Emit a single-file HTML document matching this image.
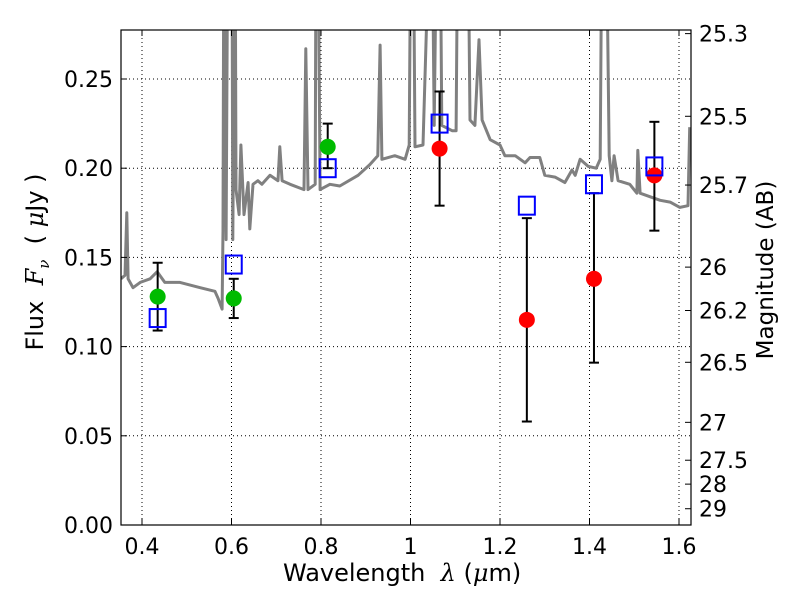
<!DOCTYPE html>
<html><head><meta charset="utf-8"><style>
body{margin:0;background:#fff;}
svg{display:block;font-family:"DejaVu Sans","Liberation Sans",sans-serif;}
</style></head><body>
<svg id="chart" width="800" height="600" viewBox="0 0 800 600"></svg>
<script>
const specW=[0.353,0.362,0.366,0.369,0.380,0.396,0.418,0.434,0.451,0.485,0.530,0.563,0.570,0.579,0.581,0.583,0.588,0.592,0.601,0.603,0.608,0.610,0.617,0.621,0.628,0.637,0.641,0.648,0.659,0.668,0.686,0.704,0.708,0.713,0.731,0.762,0.766,0.771,0.787,0.789,0.793,0.798,0.820,0.842,0.883,0.909,0.927,0.932,0.936,0.965,0.988,0.997,1.001,1.006,1.010,1.028,1.044,1.048,1.053,1.059,1.066,1.070,1.093,1.102,1.106,1.128,1.133,1.144,1.153,1.160,1.178,1.200,1.211,1.234,1.256,1.267,1.289,1.300,1.323,1.345,1.361,1.368,1.379,1.397,1.415,1.424,1.428,1.437,1.444,1.450,1.455,1.464,1.490,1.506,1.508,1.513,1.535,1.558,1.580,1.602,1.620,1.624];
const specF=[0.138,0.140,0.175,0.138,0.133,0.136,0.138,0.142,0.136,0.136,0.133,0.131,0.127,0.121,0.165,0.35,0.160,0.35,0.35,0.160,0.35,0.188,0.174,0.213,0.174,0.192,0.166,0.191,0.193,0.191,0.196,0.193,0.212,0.193,0.191,0.188,0.267,0.188,0.191,0.35,0.35,0.188,0.191,0.190,0.196,0.202,0.207,0.269,0.205,0.207,0.205,0.213,0.35,0.35,0.212,0.213,0.35,0.35,0.224,0.35,0.35,0.224,0.221,0.221,0.35,0.35,0.227,0.224,0.272,0.227,0.216,0.213,0.207,0.207,0.203,0.206,0.206,0.196,0.195,0.192,0.199,0.196,0.205,0.201,0.200,0.205,0.35,0.35,0.207,0.193,0.207,0.193,0.191,0.186,0.210,0.186,0.184,0.182,0.181,0.178,0.179,0.223];
const photW=[0.435,0.605,0.815,1.065,1.26,1.41,1.545];
const photF=[0.128,0.127,0.212,0.211,0.115,0.138,0.196];
const errHi=[0.147,0.138,0.225,0.243,0.172,0.186,0.226];
const errLo=[0.109,0.116,0.200,0.179,0.058,0.091,0.165];
const photColor=['#00bb00','#00bb00','#00bb00','#ff0000','#ff0000','#ff0000','#ff0000'];
const modelF=[0.116,0.146,0.200,0.225,0.179,0.191,0.201];
const xTicks=[0.4,0.6,0.8,1.0,1.2,1.4,1.6];
const xTickLabels=['0.4','0.6','0.8','1','1.2','1.4','1.6'];
const yTicks=[0,0.05,0.10,0.15,0.20,0.25];
const yTickLabels=['0.00','0.05','0.10','0.15','0.20','0.25'];
const magTicks=[25.3,25.5,25.7,26,26.2,26.5,27,27.5,28,29];
const magLabels=['25.3','25.5','25.7','26','26.2','26.5','27','27.5','28','29'];

const L=121,R=691,T=30,B=525;
const X=w=>142+(w-0.4)*447.5;
const Y=f=>B-f*1784;
const magToF=m=>3631e6*Math.pow(10,-0.4*m);
const svg=document.getElementById('chart');
const NS='http://www.w3.org/2000/svg';
function mk(tag,attrs,parent){const e=document.createElementNS(NS,tag);for(const k in attrs)e.setAttribute(k,attrs[k]);(parent||svg).appendChild(e);return e;}

const defs=mk('defs',{});
const cp=mk('clipPath',{id:'clip'},defs);
mk('rect',{x:L,y:T,width:R-L,height:B-T},cp);

const grid=mk('g',{});


xTicks.forEach(t=>mk('line',{x1:X(t),x2:X(t),y1:T,y2:B,stroke:'#000','stroke-width':1,'stroke-dasharray':'1,3'},grid));
yTicks.forEach(t=>mk('line',{x1:L,x2:R,y1:Y(t),y2:Y(t),stroke:'#000','stroke-width':1,'stroke-dasharray':'1,3'},grid));

let d='';specW.forEach((w,i)=>{d+=(i?'L':'M')+X(w).toFixed(1)+','+Y(specF[i]).toFixed(1);});
const sp=mk('path',{d:d,fill:'none',stroke:'#808080','stroke-width':3,'clip-path':'url(#clip)','stroke-linejoin':'round'});



photW.forEach((w,i)=>{
  const g=mk('g',{'clip-path':'url(#clip)'});
  
  
  const x=X(w);
  mk('line',{x1:x,x2:x,y1:Y(errHi[i]),y2:Y(errLo[i]),stroke:'#000','stroke-width':2},g);
  mk('line',{x1:x-5,x2:x+5,y1:Y(errHi[i]),y2:Y(errHi[i]),stroke:'#000','stroke-width':2},g);
  mk('line',{x1:x-5,x2:x+5,y1:Y(errLo[i]),y2:Y(errLo[i]),stroke:'#000','stroke-width':2},g);
  mk('circle',{cx:x,cy:Y(photF[i]),r:8,fill:photColor[i]},g);
});
photW.forEach((w,i)=>{
  const r=mk('rect',{x:X(w)-8,y:Y(modelF[i])-9,width:16,height:18,fill:'none',stroke:'#0000ff','stroke-width':2});
  
  
});

const fr=mk('rect',{x:L,y:T,width:R-L,height:B-T,fill:'none',stroke:'#000','stroke-width':1.2});



xTicks.forEach((t,i)=>{
  mk('line',{x1:X(t),x2:X(t),y1:B,y2:B-6,stroke:'#000'});
  mk('line',{x1:X(t),x2:X(t),y1:T,y2:T+6,stroke:'#000'});
  const tx=mk('text',{x:X(t),y:B+29,'font-size':22,'text-anchor':'middle'});
  tx.textContent=xTickLabels[i];
  
  
});
yTicks.forEach((t,i)=>{
  mk('line',{x1:L,x2:L+6,y1:Y(t),y2:Y(t),stroke:'#000'});
  const tx=mk('text',{x:L-8,y:Y(t)+8,'font-size':22,'text-anchor':'end'});
  tx.textContent=yTickLabels[i];
  
  
});
magTicks.forEach((m,i)=>{
  const y=Y(magToF(m));
  mk('line',{x1:R-6,x2:R,y1:y,y2:y,stroke:'#000'});
  const tx=mk('text',{x:R+8,y:y+8,'font-size':22});
  tx.textContent=magLabels[i];
  
  
});
</script>
<div style="position:absolute;left:0;top:0;width:800px;height:600px;pointer-events:none;font-family:'DejaVu Sans','Liberation Sans',sans-serif;">
  <div style="position:absolute;left:283px;top:559px;font-size:24px;white-space:nowrap;">Wavelength &nbsp;<i style="font-family:'DejaVu Serif',serif;">λ</i> (<i style="font-family:'DejaVu Serif',serif;">μ</i>m)</div>
  <div style="position:absolute;left:37px;top:262px;font-size:24px;white-space:nowrap;transform:translate(-50%,-50%) rotate(-90deg);">Flux &nbsp;<i style="font-family:'DejaVu Serif',serif;">F<sub style="font-size:15px;">ν</sub></i> &nbsp;( <i style="font-family:'DejaVu Serif',serif;">μ</i>Jy )</div>
  <div style="position:absolute;left:766px;top:270px;font-size:23px;white-space:nowrap;transform:translate(-50%,-50%) rotate(-90deg);">Magnitude (AB)</div>
</div>
</body></html>
